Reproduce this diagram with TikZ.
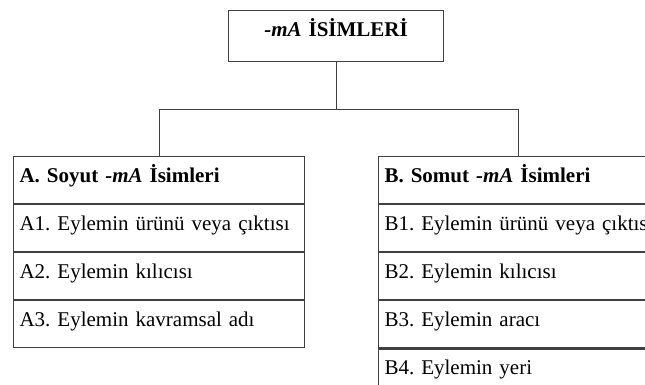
\documentclass[tikz,border=0pt]{standalone}
\usepackage{fontspec}
\setmainfont{Liberation Serif}
\usetikzlibrary{positioning}

\tikzset{
	kutu/.style={draw=black!75, line width=1.1pt, inner xsep=6pt, inner ysep=0pt,
		text height=26pt, text depth=21pt, align=left, anchor=north west,
		font=\fontsize{21}{25}\selectfont\frenchspacing},
	cizgi/.style={draw=black!75, line width=1.1pt},
}

\begin{document}
\begin{tikzpicture}[x=1pt,y=-1pt]
	\clip (0,0) rectangle (645,385);
	\node[kutu, text width=203pt, align=center, text depth=25pt] (baslik) at (228,10) {\textbf{\textit{-mA} İSİMLERİ}};

	\node[kutu, text width=279pt] (soyut) at (13,156) {\textbf{A. Soyut \textit{-mA} İsimleri}};
	\node[kutu, text width=279pt, below=0pt of soyut] (a1) {A1. Eylemin ürünü veya çıktısı};
	\node[kutu, text width=279pt, below=0pt of a1] (a2) {A2. Eylemin kılıcısı};
	\node[kutu, text width=279pt, below=0pt of a2] (a3) {A3. Eylemin kavramsal adı};

	\node[kutu, text width=268pt] (somut) at (378,156) {\textbf{B. Somut \textit{-mA} İsimleri}};
	\node[kutu, text width=268pt, below=0pt of somut] (b1) {\mbox{B1. Eylemin ürünü veya çıktısı}};
	\node[kutu, text width=268pt, below=0pt of b1] (b2) {B2. Eylemin kılıcısı};
	\node[kutu, text width=268pt, below=0pt of b2] (b3) {B3. Eylemin aracı};
	\node[kutu, text width=268pt, below=0pt of b3] (b4) {B4. Eylemin yeri};

	% baglantilar
	\draw[cizgi] (baslik.south) -- ++(0,47) coordinate (orta);
	\draw[cizgi] (soyut.north) |- (orta) -| (somut.north);
\end{tikzpicture}
\end{document}
